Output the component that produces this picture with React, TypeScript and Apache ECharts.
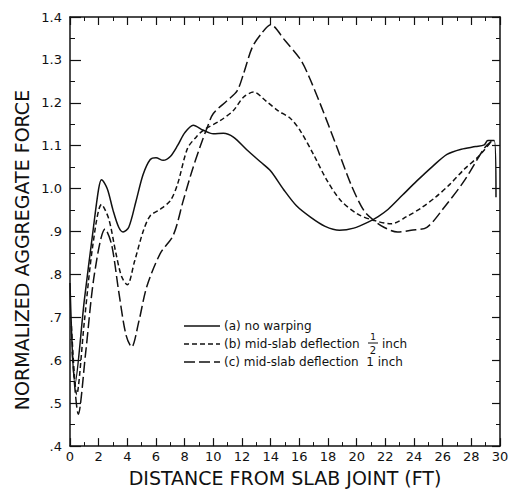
import React, { useEffect, useRef } from "react";
import * as echarts from "echarts";

// (a) no warping
const X_A = [0, 0.35, 1.0, 1.6, 2.0, 2.2, 2.6, 3.0, 3.4, 3.7, 4.1, 4.6, 5.1, 5.6, 6.0, 6.5, 7.0, 7.5, 8.0, 8.6, 9.3, 10.0, 10.7, 11.4, 12.35, 13.3, 14.0, 14.9, 15.8, 16.8, 17.8, 18.8, 19.8, 20.8, 21.5, 22.2, 23.2, 24.2, 25.3, 26.3, 27.3, 28.3, 28.9, 29.15, 29.6, 29.72];
const Y_A = [0.78, 0.545, 0.74, 0.9, 1.0, 1.021, 1.0, 0.95, 0.91, 0.899, 0.91, 0.97, 1.033, 1.068, 1.072, 1.066, 1.075, 1.1, 1.13, 1.148, 1.136, 1.128, 1.129, 1.12, 1.09, 1.062, 1.041, 0.998, 0.96, 0.933, 0.912, 0.903, 0.908, 0.922, 0.935, 0.952, 0.985, 1.018, 1.052, 1.08, 1.092, 1.098, 1.102, 1.112, 1.112, 0.98];

// (b) mid-slab deflection 1/2 inch
const X_B = [0.1, 0.47, 1.0, 1.6, 2.2, 2.7, 3.2, 3.6, 4.0, 4.5, 5.1, 5.6, 6.3, 7.0, 7.5, 8.2, 8.8, 9.3, 10.5, 11.4, 12.1, 12.8, 13.75, 14.5, 15.4, 16.1, 17.0, 17.95, 18.9, 20.05, 21.2, 22.4, 23.5, 24.5, 25.5, 26.5, 27.5, 28.5, 29.4];
const Y_B = [0.68, 0.52, 0.69, 0.87, 0.963, 0.93, 0.85, 0.795, 0.776, 0.83, 0.9, 0.937, 0.952, 0.972, 1.01, 1.094, 1.12, 1.136, 1.159, 1.182, 1.213, 1.225, 1.202, 1.182, 1.163, 1.133, 1.079, 1.018, 0.972, 0.941, 0.926, 0.918, 0.935, 0.955, 0.98, 1.01, 1.045, 1.075, 1.11];

// (c) mid-slab deflection 1 inch
const X_C = [0.15, 0.58, 1.1, 1.7, 2.45, 2.9, 3.4, 3.9, 4.3, 4.8, 5.36, 6.3, 7.2, 7.9, 8.5, 9.1, 9.6, 10.0, 10.96, 11.66, 12.1, 12.7, 13.3, 14.0, 15.0, 16.1, 16.7, 17.5, 18.65, 19.6, 20.5, 21.2, 21.9, 22.85, 23.8, 24.9, 26.1, 27.5, 28.9, 29.4];
const Y_C = [0.62, 0.474, 0.62, 0.8, 0.906, 0.87, 0.76, 0.66, 0.631, 0.69, 0.772, 0.849, 0.891, 0.972, 1.04, 1.1, 1.145, 1.175, 1.205, 1.228, 1.267, 1.328, 1.359, 1.382, 1.345, 1.3, 1.259, 1.194, 1.094, 1.01, 0.949, 0.926, 0.91, 0.899, 0.903, 0.91, 0.956, 1.018, 1.094, 1.11];

const X_TICKS = [0, 2, 4, 6, 8, 10, 12, 14, 16, 18, 20, 22, 24, 26, 28, 30];

const X_TITLE = "DISTANCE FROM SLAB JOINT (FT)";
const Y_TITLE = "NORMALIZED AGGREGATE FORCE";
const LEGEND_LABELS = ["(a) no warping", "(b) mid-slab deflection", "(c) mid-slab deflection  1 inch"];

const zip = (xs: number[], ys: number[]) => xs.map((x, i) => [x, ys[i]]);

const INK = "#111";
const FONT = "DejaVu Sans";

export default function App() {
  const ref = useRef<HTMLDivElement>(null);
  useEffect(() => {
    if (!ref.current) return;
    const chart = echarts.init(ref.current, undefined, { renderer: "svg" });
    const yFmt = (v: number) => {
      const s = v.toFixed(1);
      return v < 1 ? s.slice(1) : s;
    };
    const common = {
      type: "value" as const,
      axisLine: { show: true, onZero: false, lineStyle: { color: INK, width: 1.5 } },
      splitLine: { show: false },
    };
    const lineSeries = (name: string, data: number[][], dash: any) => ({
      name,
      type: "line",
      data,
      symbol: "none",
      smooth: 0.3,
      xAxisIndex: 0,
      yAxisIndex: 0,
      lineStyle: { color: INK, width: 1.5, type: dash },
    });
    const legendY = [326, 344, 362];
    const legendDash: any[] = [null, [5, 3], [11, 4]];
    const LFONT = "12px 'DejaVu Sans'";
    const graphics: any[] = [];
    legendY.forEach((y, i) => {
      graphics.push({
        type: "line",
        shape: { x1: 184, y1: y, x2: 220, y2: y },
        style: { stroke: INK, lineWidth: 1.3, lineDash: legendDash[i] || undefined },
      });
      graphics.push({
        type: "text",
        x: 224,
        y,
        style: { text: LEGEND_LABELS[i], fill: INK, font: LFONT, verticalAlign: "middle" },
      });
    });
    // fraction 1/2 and "inch" on row b
    graphics.push({ type: "text", x: 373, y: 337, style: { text: "1", fill: INK, font: "9px 'DejaVu Sans'", align: "center", verticalAlign: "middle" } });
    graphics.push({ type: "line", shape: { x1: 368, y1: 343, x2: 378, y2: 343 }, style: { stroke: INK, lineWidth: 1 } });
    graphics.push({ type: "text", x: 373, y: 350, style: { text: "2", fill: INK, font: "10px 'DejaVu Sans'", align: "center", verticalAlign: "middle" } });
    graphics.push({ type: "text", x: 382, y: 344, style: { text: "inch", fill: INK, font: LFONT, verticalAlign: "middle" } });
    // y-axis title
    graphics.push({
      type: "text",
      x: 22,
      y: 250,
      rotation: Math.PI / 2,
      style: { text: Y_TITLE, fill: INK, font: `19px '${FONT}'`, align: "center", verticalAlign: "middle" },
    });

    chart.setOption({
      animation: false,
      backgroundColor: "#fff",
      grid: { left: 70, right: 17, top: 17, bottom: 40 },
      xAxis: [
        {
          ...common,
          min: 0,
          max: 30,
          interval: 2,
          position: "bottom",
          name: X_TITLE,
          nameLocation: "middle",
          nameGap: 18,
          nameTextStyle: { fontFamily: FONT, fontSize: 19, color: INK },
          axisTick: { inside: true, length: 8, lineStyle: { color: INK, width: 1.2 } },
          minorTick: { show: true, splitNumber: 2, length: 4, lineStyle: { color: INK, width: 1 } },
          axisLabel: {
            margin: 4,
            fontFamily: FONT,
            fontSize: 13,
            color: INK,
            customValues: X_TICKS,
            formatter: (v: number) => String(v),
          },
        },
        {
          ...common,
          min: 0,
          max: 30,
          interval: 2,
          position: "top",
          axisTick: { inside: true, length: 8, lineStyle: { color: INK, width: 1.2 } },
          minorTick: { show: true, splitNumber: 2, length: 4, lineStyle: { color: INK } },
          axisLabel: { show: false },
        },
      ],
      yAxis: [
        {
          ...common,
          min: 0.4,
          max: 1.4,
          interval: 0.1,
          position: "left",
          axisTick: { inside: true, length: 11, lineStyle: { color: INK, width: 1.2 } },
          minorTick: { show: true, splitNumber: 2, length: 5, lineStyle: { color: INK } },
          axisLabel: { margin: 8, fontFamily: FONT, fontSize: 13, color: INK, formatter: yFmt },
        },
        {
          ...common,
          min: 0.4,
          max: 1.4,
          interval: 0.1,
          position: "right",
          axisTick: { inside: true, length: 8, lineStyle: { color: INK, width: 1.2 } },
          minorTick: { show: true, splitNumber: 2, length: 4, lineStyle: { color: INK } },
          axisLabel: { show: false },
        },
      ],
      series: [
        lineSeries("(a) no warping", zip(X_A, Y_A), "solid"),
        lineSeries("(b) mid-slab deflection 1/2 inch", zip(X_B, Y_B), [5, 3]),
        lineSeries("(c) mid-slab deflection 1 inch", zip(X_C, Y_C), [11, 4]),
      ],
      graphic: graphics,
    });
    return () => chart.dispose();
  }, []);
  return <div ref={ref} style={{ position: "fixed", left: 0, top: 0, width: 517, height: 492, background: "#fff" }} />;
}
